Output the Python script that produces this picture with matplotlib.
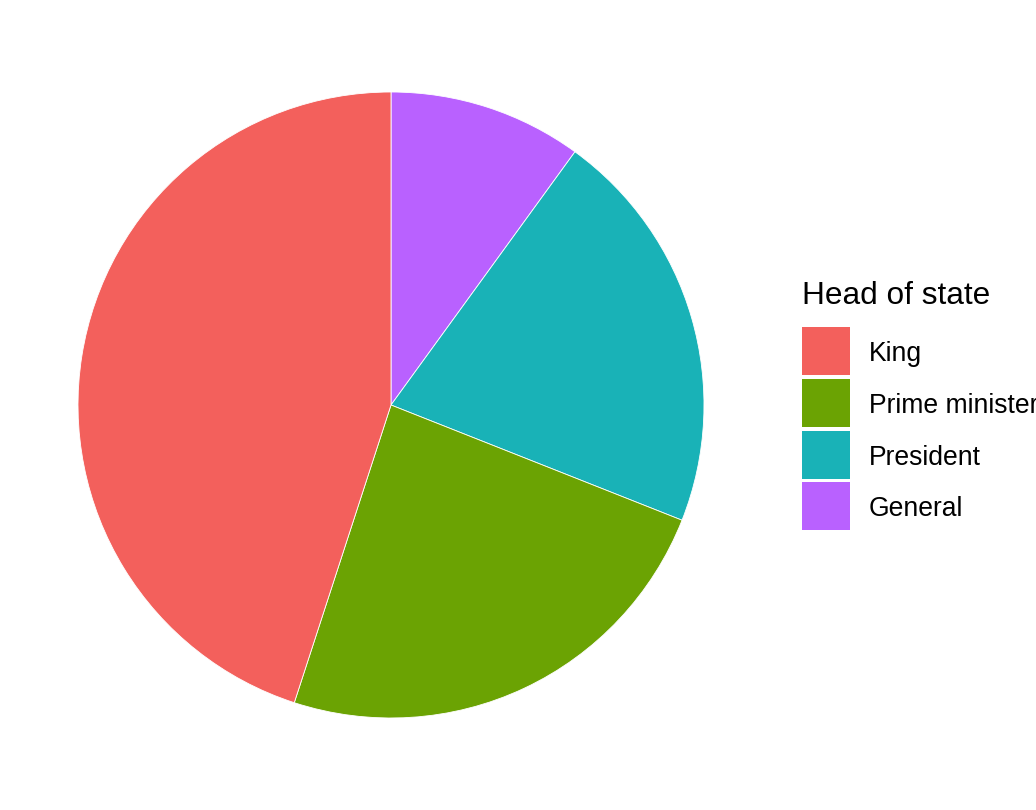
import matplotlib
matplotlib.use("Agg")
import matplotlib.pyplot as plt
from matplotlib.patches import Rectangle

categories = ["King", "Prime minister", "President", "General"]
values = [45, 24, 21, 10]
colors = ["#F3605C", "#6BA303", "#19B2B7", "#B961FF"]
legend_title = "Head of state"

W, H = 1036, 810
fig = plt.figure(figsize=(W / 100, H / 100), dpi=100)
plt.rcParams['font.family'] = ['Liberation Sans', 'DejaVu Sans']

cx, cy, r = 391, 405, 313
ax = fig.add_axes([(cx - r) / W, (H - cy - r) / H, 2 * r / W, 2 * r / H])
# clockwise from 12 o'clock in reverse factor order (ggplot stacking)
order = list(range(len(categories)))[::-1]
ax.pie([values[i] for i in order], colors=[colors[i] for i in order],
       startangle=90, counterclock=False, radius=1,
       wedgeprops=dict(edgecolor="white", linewidth=0.6))
ax.set_xlim(-1, 1)
ax.set_ylim(-1, 1)
ax.set_aspect("equal")
ax.axis("off")

# legend (manual, ggplot-like)
fig.text(802 / W, 1 - 304 / H, legend_title, fontsize=22.8, ha="left", va="baseline")
key_tops = [327, 379, 431, 482]
for i, cat in enumerate(categories):
    top = key_tops[i]
    fig.patches.append(Rectangle((802 / W, 1 - (top + 48) / H), 48 / W, 48 / H,
                                 transform=fig.transFigure, facecolor=colors[i],
                                 edgecolor="none"))
    fig.text(869 / W, 1 - (top + 24) / H, cat, fontsize=19.1, ha="left", va="center_baseline")

fig.savefig("out.png", dpi=100, facecolor="white")
